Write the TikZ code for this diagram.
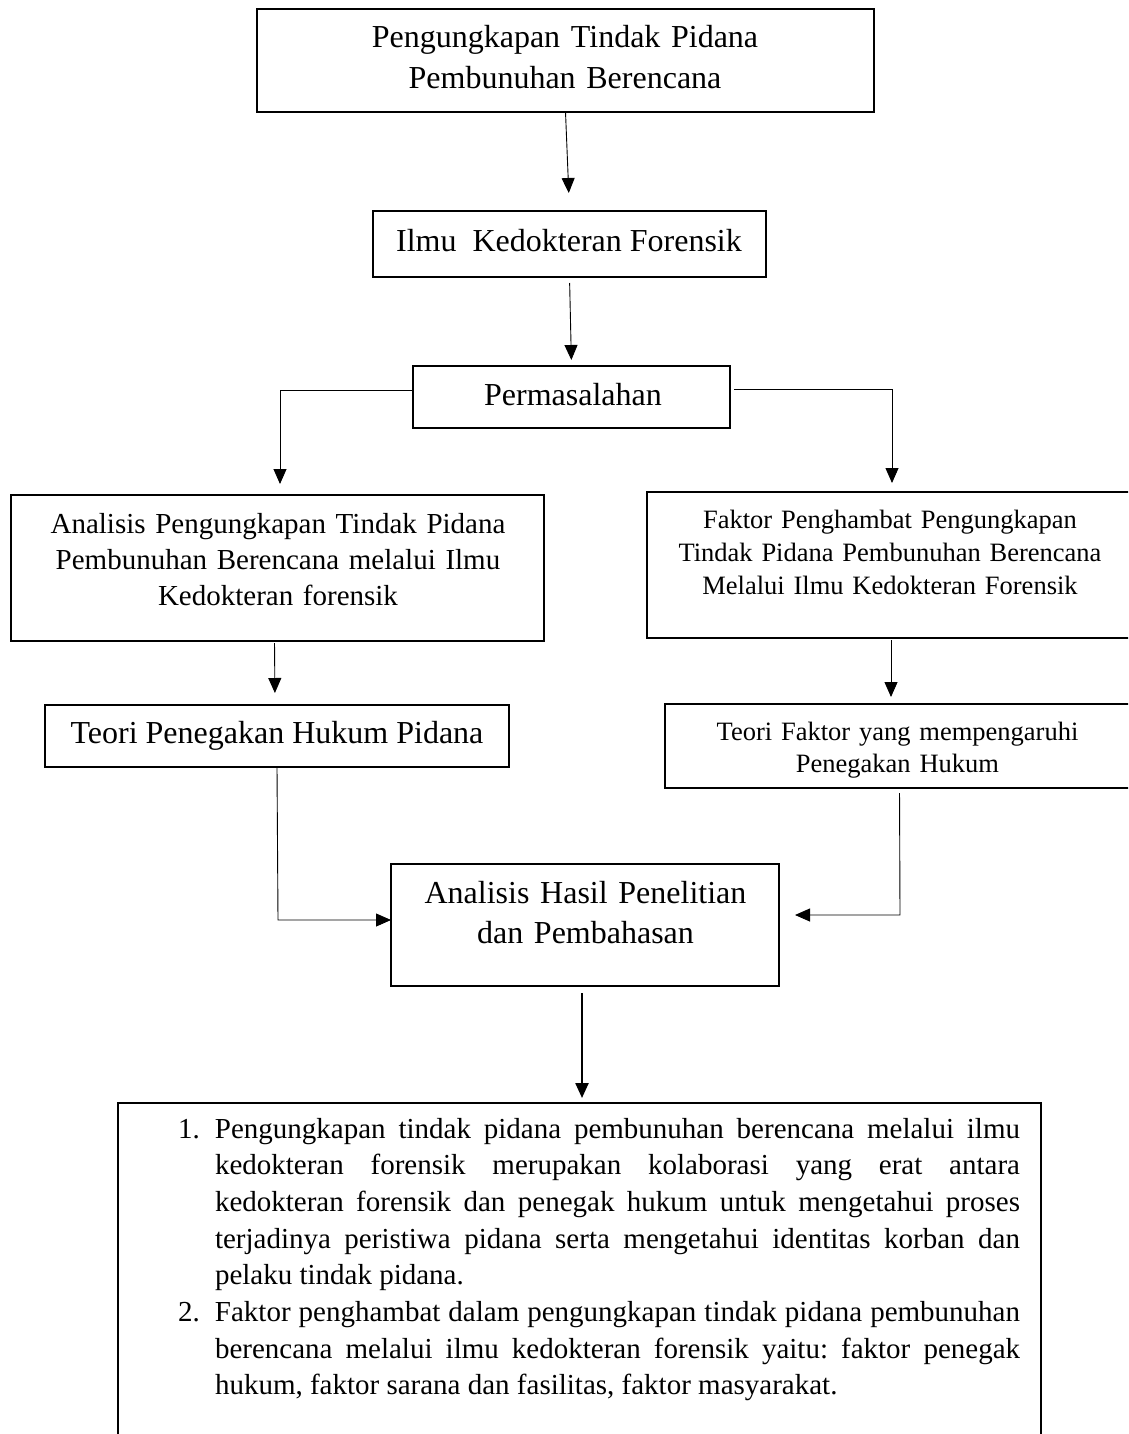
\documentclass[tikz,border=0pt]{standalone}
\usepackage{fontspec}
\setmainfont{Liberation Serif}
\usetikzlibrary{arrows.meta,calc}
\begin{document}
\frenchspacing
\begin{tikzpicture}[x=1pt,y=-1pt,
  boxst/.style={draw, line width=1.1pt, inner sep=0pt, outer sep=0pt},
  txt/.style={inner sep=0pt, outer sep=0pt, anchor=base, align=center},
  arr/.style={line width=0.9pt, -{Triangle[length=15pt,width=13pt]}},
  bigf/.style={font=\fontsize{32}{40.5}\selectfont},
  midf/.style={font=\fontsize{29}{36}\selectfont},
  smlf/.style={font=\fontsize{26.5}{33}\selectfont}]
\useasboundingbox (0,0) rectangle (1128,1434);
\clip (0,0) rectangle (1128,1434);
% boxes
\node[boxst, minimum width=617pt, minimum height=103pt] (b1) at (565.5,60.5) {};
\node[boxst, minimum width=393pt, minimum height=66pt] (b2) at (569.5,244) {};
\node[boxst, minimum width=317pt, minimum height=62pt] (perm) at (571.5,397) {};
\node[boxst, minimum width=533pt, minimum height=146pt] (la) at (277.5,568) {};
\node[boxst, minimum width=486pt, minimum height=146pt] (rb) at (890,565) {};
\node[boxst, minimum width=464pt, minimum height=62pt] (tl) at (277,736) {};
\node[boxst, minimum width=465pt, minimum height=84pt] (tr) at (897.5,746) {};
\node[boxst, minimum width=388pt, minimum height=122pt] (c) at (585,925) {};
\node[boxst, minimum width=923pt, minimum height=367pt] (bb) at (579.5,1286.5) {};
% texts
\node[txt, bigf, text width=600pt] (t1) at (565,48) {Pengungkapan Tindak Pidana\\Pembunuhan Berencana};
\node[txt, bigf] (t2) at (569,251) {Ilmu\ \ Kedokteran Forensik};
\node[txt, bigf] (tp) at (573,405) {Permasalahan};
\node[txt, midf, text width=520pt] (tla) at (278,533) {Analisis Pengungkapan Tindak Pidana\\Pembunuhan Berencana melalui Ilmu\\Kedokteran forensik};
\node[txt, smlf, text width=480pt] (trb) at (890,528) {Faktor Penghambat Pengungkapan\\Tindak Pidana Pembunuhan Berencana\\Melalui Ilmu Kedokteran Forensik};
\node[txt, bigf] (ttl) at (277,743) {Teori Penegakan Hukum Pidana};
\node[txt, font=\fontsize{26.5}{32}\selectfont, text width=460pt] (ttr) at (897.5,740) {Teori Faktor yang mempengaruhi\\Penegakan Hukum};
\node[txt, bigf, text width=380pt] (tc) at (585.5,903) {Analisis Hasil Penelitian\\dan Pembahasan};
\node[anchor=base west, inner sep=0pt, outer sep=0pt, text width=842pt, align=justify,
      font=\fontsize{29}{36.7}\selectfont] (list) at (178,1138) {%
\frenchspacing\tolerance=10000\hyphenpenalty=10000\exhyphenpenalty=10000\parindent=0pt
\spaceskip=0.25em plus 1em minus 0.12em\relax
\hangindent=37pt\hangafter=1\noindent\hbox to 37pt{1.\hfil}Pengungkapan tindak pidana pembunuhan berencana melalui ilmu\linebreak
kedokteran forensik merupakan kolaborasi yang erat antara\linebreak
kedokteran forensik dan penegak hukum untuk mengetahui proses\linebreak
terjadinya peristiwa pidana serta mengetahui identitas korban dan\linebreak
pelaku tindak pidana.\par
\hangindent=37pt\hangafter=1\noindent\hbox to 37pt{2.\hfil}Faktor penghambat dalam pengungkapan tindak pidana pembunuhan\linebreak
berencana melalui ilmu kedokteran forensik yaitu: faktor penegak\linebreak
hukum, faktor sarana dan fasilitas, faktor masyarakat.\par};
% connectors
\draw[arr, shorten >=18pt] (b1.south) -- (b2.north);
\draw[arr, shorten <=6pt, shorten >=6pt] (b2.south) -- (perm.north);
\coordinate (lk) at (280,390);
\draw[arr, shorten >=11pt] ([yshift=7pt]perm.west) -- (lk) -- (lk |- la.north);
\coordinate (rk) at (892,389);
\draw[arr, shorten <=4pt, shorten >=9pt] ([yshift=8pt]perm.east) -- (rk) -- (rk |- rb.north);
\draw[arr, shorten <=2pt, shorten >=12pt] ([xshift=-3pt]la.south) -- ([xshift=-2pt]tl.north);
\draw[arr, shorten <=2pt, shorten >=7pt] ([xshift=1pt]rb.south) -- ([xshift=-6.5pt]tr.north);
\coordinate (lc) at (278,920);
\draw[arr] (tl.south) -- (lc) -- (lc -| c.west);
\coordinate (rc) at (900,915);
\draw[arr, shorten <=5pt, shorten >=16pt] ([xshift=2pt]tr.south) -- (rc) -- (rc -| c.east);
\draw[arr, line width=2.4pt, shorten <=7pt, shorten >=5pt] ([xshift=-3pt]c.south) -- ([xshift=2.5pt]bb.north);
\end{tikzpicture}
\end{document}
